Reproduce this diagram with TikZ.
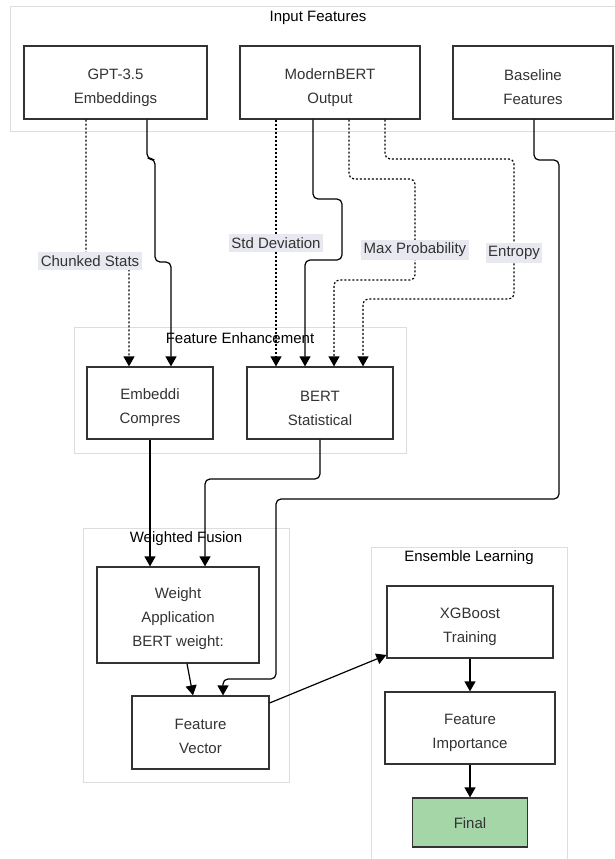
\documentclass[tikz,border=0pt]{standalone}
\usepackage{fontspec}
\setmainfont{Liberation Sans}
\usetikzlibrary{arrows.meta}
\definecolor{ink}{HTML}{333333}
\definecolor{clusterline}{HTML}{DDDDDD}
\definecolor{labelbg}{HTML}{E8E8F0}
\definecolor{finalgreen}{HTML}{A5D6A7}
\begin{document}
\begin{tikzpicture}[x=1pt,y=-1pt,
  box/.style={draw=ink, line width=1.2pt, fill=white, inner sep=0pt},
  btext/.style={text=ink, align=center, inner sep=0pt, font=\fontsize{15}{24}\selectfont},
  cluster/.style={draw=clusterline, line width=1pt, fill=white},
  ctitle/.style={text=black, font=\fontsize{15}{18}\selectfont, inner sep=0pt},
  edge/.style={draw=black, line width=1.2pt, rounded corners=5pt, -{Triangle[length=10pt,width=11pt]}},
  dotedge/.style={edge, dash pattern=on 2pt off 2pt},
  elabel/.style={fill=labelbg, text=ink, font=\fontsize{15}{18}\selectfont, inner xsep=2.5pt, inner ysep=3pt}]
\useasboundingbox (0,0) rectangle (615,859);
\fill[white] (0,0) rectangle (615,859);
% clusters
\draw[cluster] (10,7) rectangle (626,131);
\draw[cluster] (74,327) rectangle (406,453);
\draw[cluster] (83,528) rectangle (289,782);
\draw[cluster] (371,547) rectangle (567,866);
\node[ctitle] (t1) at (318,18) {Input Features};
\node[ctitle] (t2) at (240,338) {Feature Enhancement};
\node[ctitle] (t3) at (186,539) {Weighted Fusion};
\node[ctitle] (t4) at (469,558) {Ensemble Learning};
% nodes
\node[box, minimum width=183pt, minimum height=73pt] (gpt) at (115.5,82.5) {};
\node[btext] (gptT) at ([yshift=-5pt]gpt.center) {GPT-3.5\\Embeddings};
\node[box, minimum width=180pt, minimum height=73pt] (mb) at (330,82.5) {};
\node[btext] (mbT) at ([yshift=-5pt]mb.center) {ModernBERT\\Output};
\node[box, minimum width=160pt, minimum height=73pt] (base) at (533,82.5) {};
\node[btext] (baseT) at ([yshift=-5pt]base.center) {Baseline\\Features};
\node[box, minimum width=126pt, minimum height=72pt] (emb) at (150,403) {};
\node[btext] (embT) at ([yshift=-5pt]emb.center) {Embeddi\\Compres};
\node[box, minimum width=146pt, minimum height=72pt] (bert) at (320,403) {};
\node[btext] (bertT) at ([yshift=-5pt]bert.center) {BERT\\Statistical};
\node[box, minimum width=162pt, minimum height=96pt] (weight) at (178,615) {};
\node[btext] (weightT) at ([yshift=-4pt]weight.center) {Weight\\Application\\BERT weight:};
\node[box, minimum width=137pt, minimum height=73pt] (fv) at (200.5,732.5) {};
\node[btext] (fvT) at ([yshift=-4pt]fv.center) {Feature\\Vector};
\node[box, minimum width=166pt, minimum height=72pt] (xgb) at (470,622) {};
\node[btext] (xgbT) at ([yshift=-5pt]xgb.center) {XGBoost\\Training};
\node[box, minimum width=170pt, minimum height=72pt] (fi) at (470,728) {};
\node[btext] (fiT) at ([yshift=-5pt]fi.center) {Feature\\Importance};
\node[box, fill=finalgreen, minimum width=115pt, minimum height=49pt] (final) at (470,822.5) {};
\node[btext] (finalT) at ([yshift=-1pt]final.center) {Final};
% edges
\draw[dotedge] ([xshift=-29.5pt]gpt.south) -- (86,261) -- (129,261) -- ([xshift=-21pt]emb.north);
\draw[edge] ([xshift=31.5pt]gpt.south) -- (147,159) -- (155,159) -- (155,262) -- (171,262) -- ([xshift=21pt]emb.north);
\draw[dotedge] ([xshift=-54pt]mb.south) -- ([xshift=-44pt]bert.north);
\draw[edge] ([xshift=-17pt]mb.south) -- (313,199) -- (342,199) -- (342,260) -- (305,260) -- ([xshift=-15pt]bert.north);
\draw[dotedge] ([xshift=19pt]mb.south) -- (349,179) -- (415,179) -- (415,280) -- (334,280) -- ([xshift=14pt]bert.north);
\draw[dotedge] ([xshift=55pt]mb.south) -- (385,159) -- (514,159) -- (514,299) -- (363,299) -- ([xshift=43pt]bert.north);
\draw[edge] ([xshift=1pt]base.south) -- (534,160) -- (559,160) -- (559,499) -- (276,499) -- (276,679) -- (223,679) -- ([xshift=22.5pt]fv.north);
\draw[edge] (emb.south) -- ([xshift=-28pt]weight.north);
\draw[edge] (bert.south) -- (320,479) -- (205,479) -- ([xshift=27pt]weight.north);
\draw[edge] ([xshift=9pt]weight.south) -- ([xshift=-7.5pt]fv.north);
\draw[edge] ([yshift=29.5pt]fv.east) -- ([yshift=-33pt]xgb.west);
\draw[edge] (xgb.south) -- (fi.north);
\draw[edge] (fi.south) -- (final.north);
% edge labels
\node[elabel] (lcs) at (90,261) {Chunked Stats};
\node[elabel] (lsd) at (276,243) {Std Deviation};
\node[elabel] (lmp) at (415,250) {Max Probability};
\node[elabel] (len) at (514,253) {Entropy};
\end{tikzpicture}
\end{document}
